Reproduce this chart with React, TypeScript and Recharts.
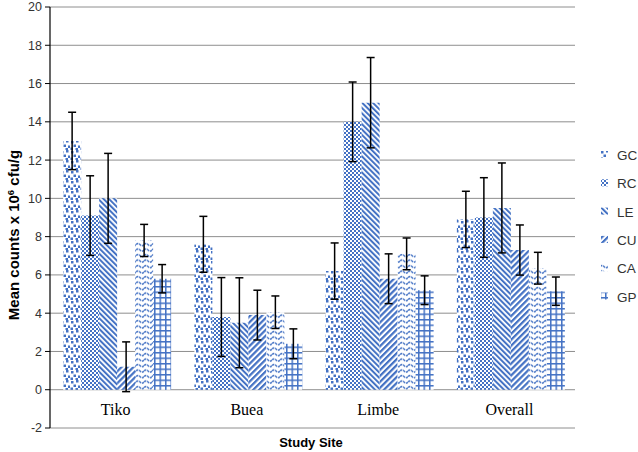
import React from 'react';
import { BarChart, Bar, XAxis, YAxis, CartesianGrid, ErrorBar } from 'recharts';

const categories = ['Tiko', 'Buea', 'Limbe', 'Overall'];
const seriesNames = ['GC', 'RC', 'LE', 'CU', 'CA', 'GP'];

const GC = [13.0, 7.6, 6.2, 8.9];
const GC_err = [1.5, 1.46, 1.47, 1.47];
const RC = [9.1, 3.8, 14.0, 9.0];
const RC_err = [2.08, 2.06, 2.08, 2.08];
const LE = [10.0, 3.5, 15.0, 9.5];
const LE_err = [2.35, 2.35, 2.36, 2.35];
const CU = [1.2, 3.9, 5.8, 7.3];
const CU_err = [1.3, 1.3, 1.3, 1.31];
const CA = [7.8, 4.05, 7.1, 6.35];
const CA_err = [0.84, 0.85, 0.83, 0.83];
const GP = [5.8, 2.4, 5.2, 5.15];
const GP_err = [0.74, 0.78, 0.75, 0.74];

const yTicks = [-2, 0, 2, 4, 6, 8, 10, 12, 14, 16, 18, 20];

const values: Record<string, number[]> = { GC, RC, LE, CU, CA, GP };
const errors: Record<string, number[]> = { GC: GC_err, RC: RC_err, LE: LE_err, CU: CU_err, CA: CA_err, GP: GP_err };

const data = categories.map((site, i) => {
  const row: Record<string, any> = { site };
  seriesNames.forEach((s) => {
    row[s] = values[s][i];
    row[s + '_err'] = errors[s][i];
  });
  return row;
});

const BLUE = '#4472C4';
const SANS = '"Liberation Sans", Arial, sans-serif';
const SERIF = '"Liberation Serif", "Times New Roman", serif';

const CatTick = (props: any) => {
  const { x, y, payload } = props;
  return (
    <text x={x} y={y - 13} textAnchor="middle" fontFamily={SERIF} fontSize={16} fill="#000">
      {payload.value}
    </text>
  );
};

export default function App() {
  return (
    <div style={{ position: 'absolute', left: 0, top: 0, width: 638, height: 452, background: '#fff' }}>
      <BarChart
        width={638}
        height={452}
        data={data}
        margin={{ top: 7, right: 63, bottom: 0, left: 0 }}
        barCategoryGap="10%"
        barGap={0}
      >
        <defs>
          <pattern id="pat-GC" patternUnits="userSpaceOnUse" width="10" height="10">
            <rect width="10" height="10" fill="#fff" />
            <rect x="1" y="1" width="2.5" height="2.5" fill={BLUE} />
            <rect x="6" y="0" width="2.5" height="2.5" fill={BLUE} />
            <rect x="3.5" y="4.5" width="2.5" height="2.5" fill={BLUE} />
            <rect x="8" y="5.5" width="2.5" height="2.5" fill={BLUE} />
            <rect x="0.5" y="7.5" width="2.5" height="2.5" fill={BLUE} />
            <rect x="5.5" y="8" width="2.5" height="2" fill={BLUE} />
          </pattern>
          <pattern id="pat-RC" patternUnits="userSpaceOnUse" width="4" height="4">
            <rect width="4" height="4" fill="#fff" />
            <rect x="0" y="0" width="2" height="2" fill={BLUE} />
            <rect x="2" y="2" width="2" height="2" fill={BLUE} />
          </pattern>
          <pattern id="pat-LE" patternUnits="userSpaceOnUse" width="3.8" height="8" patternTransform="rotate(-45)">
            <rect width="3.8" height="8" fill="#fff" />
            <rect x="0" y="0" width="2" height="8" fill={BLUE} />
          </pattern>
          <pattern id="pat-CU" patternUnits="userSpaceOnUse" width="4.2" height="8" patternTransform="rotate(45)">
            <rect width="4.2" height="8" fill="#fff" />
            <rect x="0" y="0" width="2.2" height="8" fill={BLUE} />
          </pattern>
          <pattern id="pat-CA" patternUnits="userSpaceOnUse" width="8" height="5.5">
            <rect width="8" height="5.5" fill="#fff" />
            <path d="M0 2.6 Q2 0.4 4 2.6 T8 2.6" stroke={BLUE} strokeWidth="1.4" fill="none" strokeDasharray="2.6 0.8" />
          </pattern>
          <pattern id="pat-GP" patternUnits="userSpaceOnUse" width="5.5" height="5.5">
            <rect width="5.5" height="5.5" fill="#fff" />
            <rect x="0" y="0" width="1.5" height="5.5" fill={BLUE} />
            <rect x="0" y="0" width="5.5" height="1.5" fill={BLUE} />
          </pattern>
        </defs>
        <CartesianGrid vertical={false} stroke="#8e8e8e" strokeWidth={1} />
        <XAxis
          dataKey="site"
          height={24}
          axisLine={false}
          tickLine={false}
          tickSize={0}
          tickMargin={0}
          tick={<CatTick />}
          interval={0}
        />
        <YAxis
          width={50}
          domain={[-2, 20]}
          ticks={yTicks}
          interval={0}
          allowDataOverflow
          axisLine={{ stroke: '#000', strokeWidth: 1.2 }}
          tickLine={{ stroke: '#000' }}
          tickSize={5}
          tickMargin={3}
          tick={{ fontFamily: SANS, fontSize: 12.5, fill: '#333' }}
        />
        {seriesNames.map((s) => (
          <Bar key={s} dataKey={s} fill={`url(#pat-${s})`} isAnimationActive={false}>
            <ErrorBar dataKey={s + '_err'} width={4} stroke="#000" strokeWidth={1.5} direction="y" />
          </Bar>
        ))}
        <text
          transform="rotate(-90)"
          x={-235}
          y={19}
          textAnchor="middle"
          fontFamily={SANS}
          fontSize={15}
          fontWeight="bold"
          fill="#000"
        >
          <tspan>Mean counts x 10</tspan>
          <tspan dy={-5} fontSize={9.5}>6</tspan>
          <tspan dy={5}> cfu/g</tspan>
        </text>
        <text x={311} y={447} textAnchor="middle" fontFamily={SANS} fontSize={13} fontWeight="bold" fill="#000">
          Study Site
        </text>
        <g>
          {seriesNames.map((s, i) => (
            <g key={s}>
              <rect x={601} y={151 + i * 28.3} width={7} height={7} fill={`url(#pat-${s})`} />
              <text x={617} y={160 + i * 28.3} fontFamily={SANS} fontSize={13.5} fill="#333">
                {s}
              </text>
            </g>
          ))}
        </g>
      </BarChart>
    </div>
  );
}
